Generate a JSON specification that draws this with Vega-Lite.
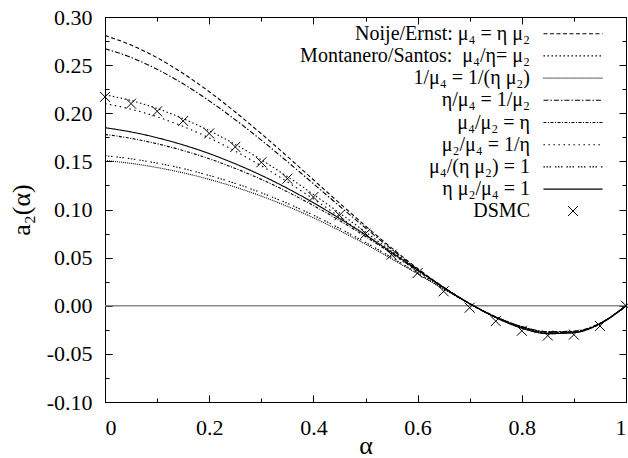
{
  "$schema": "https://vega.github.io/schema/vega-lite/v6.json",
  "width": 521,
  "height": 385,
  "autosize": "none",
  "padding": {"left": 105, "top": 17, "right": 2, "bottom": 56},
  "background": "white",
  "config": {
    "view": {"stroke": "black", "strokeWidth": 1},
    "font": "Liberation Serif",
    "axis": {"grid": false, "ticks": false, "labelFont": "Liberation Serif", "titleFont": "Liberation Serif", "labelColor": "black", "titleColor": "black", "titleFontWeight": "normal", "tickColor": "black", "tickWidth": 1, "gridColor": "black", "gridWidth": 1, "gridOpacity": 1, "domain": false}
  },
  "datasets": {
    "curves": [
      {"s":"1","a":0,"v":0.2807},{"s":"1","a":0.05,"v":0.2709},{"s":"1","a":0.1,"v":0.2577},{"s":"1","a":0.15,"v":0.2413},{"s":"1","a":0.2,"v":0.2224},{"s":"1","a":0.25,"v":0.2013},{"s":"1","a":0.3,"v":0.1787},{"s":"1","a":0.35,"v":0.1551},{"s":"1","a":0.4,"v":0.1309},{"s":"1","a":0.45,"v":0.1067},{"s":"1","a":0.5,"v":0.0829},{"s":"1","a":0.55,"v":0.0601},{"s":"1","a":0.6,"v":0.0387},{"s":"1","a":0.65,"v":0.0192},{"s":"1","a":0.7,"v":0.0022},{"s":"1","a":0.75,"v":-0.0118},{"s":"1","a":0.8,"v":-0.0219},{"s":"1","a":0.85,"v":-0.0274},{"s":"1","a":0.9,"v":-0.0269},{"s":"1","a":0.95,"v":-0.0186},{"s":"1","a":1,"v":0},
      {"s":"2","a":0,"v":0.2192},{"s":"2","a":0.05,"v":0.2132},{"s":"2","a":0.1,"v":0.2049},{"s":"2","a":0.15,"v":0.1944},{"s":"2","a":0.2,"v":0.1819},{"s":"2","a":0.25,"v":0.1676},{"s":"2","a":0.3,"v":0.1516},{"s":"2","a":0.35,"v":0.1342},{"s":"2","a":0.4,"v":0.1157},{"s":"2","a":0.45,"v":0.0964},{"s":"2","a":0.5,"v":0.0766},{"s":"2","a":0.55,"v":0.0567},{"s":"2","a":0.6,"v":0.0372},{"s":"2","a":0.65,"v":0.0188},{"s":"2","a":0.7,"v":0.0022},{"s":"2","a":0.75,"v":-0.0119},{"s":"2","a":0.8,"v":-0.0224},{"s":"2","a":0.85,"v":-0.0282},{"s":"2","a":0.9,"v":-0.0276},{"s":"2","a":0.95,"v":-0.019},{"s":"2","a":1,"v":0},
      {"s":"3","a":0,"v":0.1509},{"s":"3","a":0.05,"v":0.1479},{"s":"3","a":0.1,"v":0.1436},{"s":"3","a":0.15,"v":0.1381},{"s":"3","a":0.2,"v":0.1313},{"s":"3","a":0.25,"v":0.1233},{"s":"3","a":0.3,"v":0.1139},{"s":"3","a":0.35,"v":0.1033},{"s":"3","a":0.4,"v":0.0914},{"s":"3","a":0.45,"v":0.0782},{"s":"3","a":0.5,"v":0.064},{"s":"3","a":0.55,"v":0.0488},{"s":"3","a":0.6,"v":0.0331},{"s":"3","a":0.65,"v":0.0172},{"s":"3","a":0.7,"v":0.0021},{"s":"3","a":0.75,"v":-0.0115},{"s":"3","a":0.8,"v":-0.022},{"s":"3","a":0.85,"v":-0.0279},{"s":"3","a":0.9,"v":-0.0273},{"s":"3","a":0.95,"v":-0.0185},{"s":"3","a":1,"v":0},
      {"s":"4","a":0,"v":0.2671},{"s":"4","a":0.05,"v":0.258},{"s":"4","a":0.1,"v":0.2457},{"s":"4","a":0.15,"v":0.2306},{"s":"4","a":0.2,"v":0.2129},{"s":"4","a":0.25,"v":0.1933},{"s":"4","a":0.3,"v":0.1721},{"s":"4","a":0.35,"v":0.1497},{"s":"4","a":0.4,"v":0.1268},{"s":"4","a":0.45,"v":0.1036},{"s":"4","a":0.5,"v":0.0808},{"s":"4","a":0.55,"v":0.0587},{"s":"4","a":0.6,"v":0.0379},{"s":"4","a":0.65,"v":0.0188},{"s":"4","a":0.7,"v":0.0021},{"s":"4","a":0.75,"v":-0.0116},{"s":"4","a":0.8,"v":-0.0216},{"s":"4","a":0.85,"v":-0.0269},{"s":"4","a":0.9,"v":-0.0264},{"s":"4","a":0.95,"v":-0.0182},{"s":"4","a":1,"v":0},
      {"s":"5","a":0,"v":0.178},{"s":"5","a":0.05,"v":0.1739},{"s":"5","a":0.1,"v":0.1683},{"s":"5","a":0.15,"v":0.1613},{"s":"5","a":0.2,"v":0.1527},{"s":"5","a":0.25,"v":0.1427},{"s":"5","a":0.3,"v":0.1313},{"s":"5","a":0.35,"v":0.1184},{"s":"5","a":0.4,"v":0.1041},{"s":"5","a":0.45,"v":0.0886},{"s":"5","a":0.5,"v":0.0719},{"s":"5","a":0.55,"v":0.0544},{"s":"5","a":0.6,"v":0.0365},{"s":"5","a":0.65,"v":0.0188},{"s":"5","a":0.7,"v":0.0022},{"s":"5","a":0.75,"v":-0.0122},{"s":"5","a":0.8,"v":-0.0232},{"s":"5","a":0.85,"v":-0.029},{"s":"5","a":0.9,"v":-0.028},{"s":"5","a":0.95,"v":-0.0187},{"s":"5","a":1,"v":0},
      {"s":"6","a":0,"v":0.21},{"s":"6","a":0.05,"v":0.2042},{"s":"6","a":0.1,"v":0.1963},{"s":"6","a":0.15,"v":0.1863},{"s":"6","a":0.2,"v":0.1744},{"s":"6","a":0.25,"v":0.1607},{"s":"6","a":0.3,"v":0.1454},{"s":"6","a":0.35,"v":0.1287},{"s":"6","a":0.4,"v":0.111},{"s":"6","a":0.45,"v":0.0925},{"s":"6","a":0.5,"v":0.0735},{"s":"6","a":0.55,"v":0.0544},{"s":"6","a":0.6,"v":0.0358},{"s":"6","a":0.65,"v":0.0181},{"s":"6","a":0.7,"v":0.0021},{"s":"6","a":0.75,"v":-0.0114},{"s":"6","a":0.8,"v":-0.0216},{"s":"6","a":0.85,"v":-0.0271},{"s":"6","a":0.9,"v":-0.0266},{"s":"6","a":0.95,"v":-0.0183},{"s":"6","a":1,"v":0},
      {"s":"7","a":0,"v":0.1559},{"s":"7","a":0.05,"v":0.1527},{"s":"7","a":0.1,"v":0.1482},{"s":"7","a":0.15,"v":0.1425},{"s":"7","a":0.2,"v":0.1354},{"s":"7","a":0.25,"v":0.1271},{"s":"7","a":0.3,"v":0.1174},{"s":"7","a":0.35,"v":0.1064},{"s":"7","a":0.4,"v":0.0941},{"s":"7","a":0.45,"v":0.0805},{"s":"7","a":0.5,"v":0.0658},{"s":"7","a":0.55,"v":0.0502},{"s":"7","a":0.6,"v":0.0339},{"s":"7","a":0.65,"v":0.0177},{"s":"7","a":0.7,"v":0.0021},{"s":"7","a":0.75,"v":-0.0117},{"s":"7","a":0.8,"v":-0.0224},{"s":"7","a":0.85,"v":-0.0283},{"s":"7","a":0.9,"v":-0.0276},{"s":"7","a":0.95,"v":-0.0185},{"s":"7","a":1,"v":0},
      {"s":"8","a":0,"v":0.185},{"s":"8","a":0.05,"v":0.1806},{"s":"8","a":0.1,"v":0.1746},{"s":"8","a":0.15,"v":0.1671},{"s":"8","a":0.2,"v":0.1581},{"s":"8","a":0.25,"v":0.1475},{"s":"8","a":0.3,"v":0.1355},{"s":"8","a":0.35,"v":0.122},{"s":"8","a":0.4,"v":0.107},{"s":"8","a":0.45,"v":0.0908},{"s":"8","a":0.5,"v":0.0736},{"s":"8","a":0.55,"v":0.0555},{"s":"8","a":0.6,"v":0.0372},{"s":"8","a":0.65,"v":0.0191},{"s":"8","a":0.7,"v":0.0022},{"s":"8","a":0.75,"v":-0.0123},{"s":"8","a":0.8,"v":-0.0233},{"s":"8","a":0.85,"v":-0.029},{"s":"8","a":0.9,"v":-0.028},{"s":"8","a":0.95,"v":-0.0187},{"s":"8","a":1,"v":0}
    ],
    "dsmc": [
      {"s":"DSMC","a":0,"v":0.217},{"s":"DSMC","a":0.05,"v":0.21},{"s":"DSMC","a":0.1,"v":0.202},{"s":"DSMC","a":0.15,"v":0.192},{"s":"DSMC","a":0.2,"v":0.179},{"s":"DSMC","a":0.25,"v":0.165},{"s":"DSMC","a":0.3,"v":0.149},{"s":"DSMC","a":0.35,"v":0.132},{"s":"DSMC","a":0.4,"v":0.113},{"s":"DSMC","a":0.45,"v":0.094},{"s":"DSMC","a":0.5,"v":0.075},{"s":"DSMC","a":0.55,"v":0.053},{"s":"DSMC","a":0.6,"v":0.034},{"s":"DSMC","a":0.65,"v":0.015},{"s":"DSMC","a":0.7,"v":-0.002},{"s":"DSMC","a":0.75,"v":-0.016},{"s":"DSMC","a":0.8,"v":-0.026},{"s":"DSMC","a":0.85,"v":-0.031},{"s":"DSMC","a":0.9,"v":-0.03},{"s":"DSMC","a":0.95,"v":-0.021},{"s":"DSMC","a":1,"v":0}
    ]
  },
  "resolve": {"axis": {"x": "independent", "y": "independent"}},
  "layer": [
    {
      "data": {"values": [{"z": 0}]},
      "mark": {"type": "rule", "color": "#888888", "strokeWidth": 1.6},
      "encoding": {
        "y": {"field": "z", "type": "quantitative", "scale": {"domain": [-0.1, 0.3], "nice": false, "zero": false},
          "axis": {"orient": "left", "values": [-0.1,-0.05,0,0.05,0.1,0.15,0.2,0.25,0.3], "labelFontSize": 22,
            "ticks": true, "tickSize": -7, "labelPadding": 20,
            "grid": true, "gridDash": [7, 507, 7, 20],
            "labelExpr": "(datum.value < -0.0001 ? '-' : '') + format(abs(datum.value), '.2f')",
            "title": "a₂(α)", "titleFontSize": 26, "titlePadding": 12}}
      }
    },
    {
      "data": {"name": "curves"},
      "mark": {"type": "line", "color": "black", "strokeWidth": 1.1, "interpolate": "monotone"},
      "encoding": {
        "x": {"field": "a", "type": "quantitative", "scale": {"domain": [0, 1], "nice": false},
          "axis": {"orient": "bottom", "values": [0,0.2,0.4,0.6,0.8,1], "labelFontSize": 22, "format": "~g",
            "ticks": true, "tickSize": -7, "labelPadding": 22,
            "grid": true, "gridDash": [7, 371, 7, 20],
            "title": "α", "titleFontSize": 26, "titlePadding": -6}},
        "y": {"field": "v", "type": "quantitative",
          "axis": {"orient": "left", "values": [-0.075,-0.025,0.025,0.075,0.125,0.175,0.225,0.275], "labels": false, "title": null,
            "grid": true, "gridDash": [4, 513, 4, 20]}},
        "strokeDash": {"field": "s", "type": "nominal",
          "scale": {"domain": ["1","2","3","4","5","6","7","8"], "range": [[4,2.5],[1.5,2.5],[1,1],[5,2,1.5,2],[3,1.5,1,1.5],[1.5,3.5],[1.5,1.5,1.5,1.5,1.5,4],[1,0]]},
          "legend": {"orient": "none", "legendX": 458, "legendY": 6.7, "title": null, "padding": 0, "rowPadding": 2.2,
            "labelAlign": "right", "labelOffset": -53, "labelFont": "Liberation Serif", "labelFontSize": 20, "labelColor": "black", "labelLimit": 500,
            "symbolType": "M-6,0L6,0", "symbolSize": 97, "symbolStrokeColor": "black", "symbolStrokeWidth": 1.1, "symbolFillColor": "transparent",
            "labelExpr": "['Noije/Ernst: μ₄ = η μ₂', 'Montanero/Santos:\u00a0 μ₄/η= μ₂', '1/μ₄ = 1/(η μ₂)', 'η/μ₄ = 1/μ₂', 'μ₄/μ₂ = η', 'μ₂/μ₄ = 1/η', 'μ₄/(η μ₂) = 1', 'η μ₂/μ₄ = 1'][toNumber(datum.label) - 1]"}}
      }
    },
    {
      "data": {"name": "dsmc"},
      "mark": {"type": "point", "filled": false, "color": "black", "strokeWidth": 1, "opacity": 1, "size": 100},
      "encoding": {
        "x": {"field": "a", "type": "quantitative",
          "axis": {"orient": "bottom", "values": [0.1,0.3,0.5,0.7,0.9], "labels": false, "title": null,
            "grid": true, "gridDash": [4, 377, 4, 20]}},
        "y": {"field": "v", "type": "quantitative", "axis": null},
        "shape": {"field": "s", "type": "nominal",
          "scale": {"domain": ["DSMC"], "range": ["M-1,-1L1,1M-1,1L1,-1"]},
          "legend": {"orient": "none", "legendX": 458, "legendY": 184, "title": null, "padding": 0, "rowPadding": 0,
            "labelAlign": "right", "labelOffset": -53, "labelFont": "Liberation Serif", "labelFontSize": 20, "labelColor": "black", "labelLimit": 500,
            "symbolSize": 100, "symbolStrokeColor": "black", "symbolStrokeWidth": 1, "symbolFillColor": "transparent"}}
      }
    }
  ]
}
